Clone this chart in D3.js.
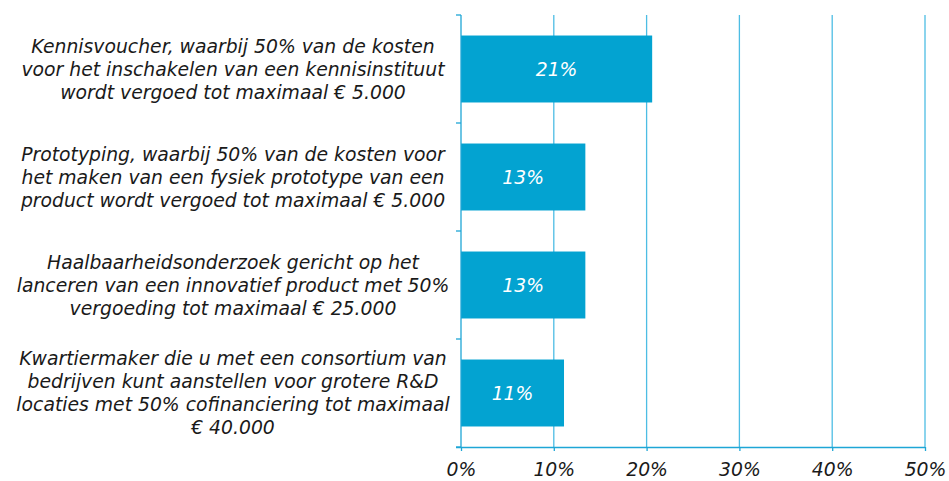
<!DOCTYPE html>
<html>
<head>
<meta charset="utf-8">
<script src="https://cdn.jsdelivr.net/npm/d3@7"></script>
<style>
  body { margin: 0; background: #fff; }
  text { font-family: "DejaVu Sans", Verdana, sans-serif; font-style: italic; }
</style>
</head>
<body>
<div id="chart"></div>
<script>
// categories (each label split in lines as on the original)
const categories = [
    ["Kennisvoucher, waarbij 50% van de kosten", "voor het inschakelen van een kennisinstituut", "wordt vergoed tot maximaal € 5.000"],
    ["Prototyping, waarbij 50% van de kosten voor", "het maken van een fysiek prototype van een", "product wordt vergoed tot maximaal € 5.000"],
    ["Haalbaarheidsonderzoek gericht op het", "lanceren van een innovatief product met 50%", "vergoeding tot maximaal € 25.000"],
    ["Kwartiermaker die u met een consortium van", "bedrijven kunt aanstellen voor grotere R&D", "locaties met 50% cofinanciering tot maximaal", "€ 40.000"]
];
const values = [0.206, 0.134, 0.134, 0.111];
const xTicks = [0, 0.1, 0.2, 0.3, 0.4, 0.5];

const width = 949, height = 481;
const margin = { top: 15, right: 24, bottom: 34, left: 461 };
const barColor = "#03a3d1";
const axisColor = "#1ea6d6";
const gridColor = "#4dbde4";
const fontSize = "18.8px";

const svg = d3.select("#chart").append("svg")
    .attr("width", width)
    .attr("height", height);

const ids = categories.map((c, i) => i);

const x = d3.scaleLinear()
    .domain([0, 0.5])
    .range([margin.left, width - margin.right]);

const y = d3.scaleBand()
    .domain(ids)
    .range([margin.top, height - margin.bottom])
    .paddingInner(0.38)
    .paddingOuter(0.19);

// gridlines
svg.append("g")
    .selectAll("line")
    .data(xTicks.slice(1))
    .join("line")
    .attr("x1", d => x(d)).attr("x2", d => x(d))
    .attr("y1", margin.top).attr("y2", height - margin.bottom)
    .attr("stroke", gridColor)
    .attr("stroke-width", 1.3);

// bars
svg.append("g")
    .selectAll("rect")
    .data(values)
    .join("rect")
    .attr("x", x(0))
    .attr("y", (d, i) => y(i))
    .attr("width", d => x(d) - x(0))
    .attr("height", y.bandwidth())
    .attr("fill", barColor);

// value labels in the bars
svg.append("g")
    .selectAll("text")
    .data(values)
    .join("text")
    .attr("x", d => (x(0) + x(d)) / 2)
    .attr("y", (d, i) => y(i) + y.bandwidth() / 2)
    .attr("dy", "0.35em")
    .attr("text-anchor", "middle")
    .attr("fill", "#fff")
    .style("font-size", fontSize)
    .text(d => d3.format(".0%")(d));

// x axis
const xAxis = svg.append("g")
    .attr("transform", `translate(0,${height - margin.bottom})`)
    .call(d3.axisBottom(x).tickValues(xTicks).tickFormat(d3.format(".0%")).tickSizeInner(4).tickSizeOuter(0));
xAxis.select(".domain").attr("stroke", axisColor).attr("stroke-width", 1.3)
    .attr("d", `M${x(0) - 5},0.5H${x(0.5)}`);
xAxis.selectAll(".tick line").attr("stroke", axisColor).attr("stroke-width", 1.3);
xAxis.selectAll(".tick text")
    .attr("fill", "#1a1a1a")
    .attr("y", 12)
    .attr("dy", "0.9em")
    .style("font-size", fontSize);

// y axis: line with ticks at category boundaries
const yTop = margin.top, yBot = height - margin.bottom;
const step = (yBot - yTop) / categories.length;
const yAxis = svg.append("g");
yAxis.append("line")
    .attr("x1", x(0)).attr("x2", x(0))
    .attr("y1", yTop).attr("y2", yBot)
    .attr("stroke", axisColor).attr("stroke-width", 1.3);
yAxis.selectAll("line.tk")
    .data(d3.range(categories.length + 1))
    .join("line")
    .attr("class", "tk")
    .attr("x1", x(0) - 5).attr("x2", x(0))
    .attr("y1", d => yTop + d * step).attr("y2", d => yTop + d * step)
    .attr("stroke", axisColor).attr("stroke-width", 1.3);

// category labels
const lineH = 23;
const labelX = 233;
const labels = svg.append("g")
    .selectAll("text")
    .data(categories)
    .join("text")
    .attr("text-anchor", "middle")
    .attr("fill", "#1a1a1a")
    .style("font-size", fontSize);
labels.each(function(lines, i) {
    const cy = y(i) + y.bandwidth() / 2;
    const y0 = cy - (lines.length - 1) * lineH / 2;
    d3.select(this).selectAll("tspan")
        .data(lines)
        .join("tspan")
        .attr("x", labelX)
        .attr("y", (d, j) => y0 + j * lineH)
        .attr("dy", "0.35em")
        .text(d => d);
});
</script>
</body>
</html>
